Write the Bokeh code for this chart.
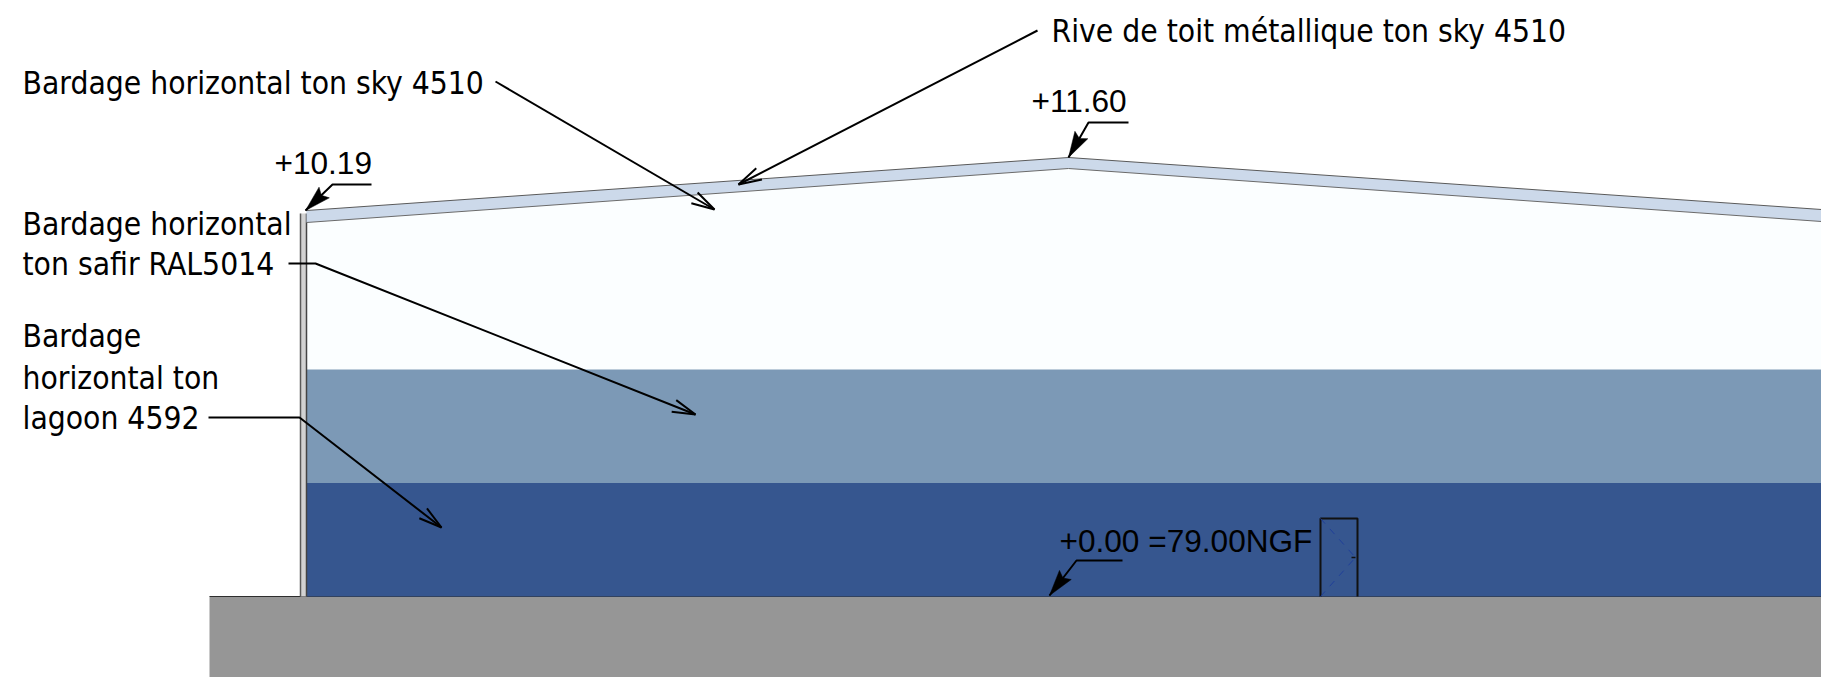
from bokeh.plotting import figure
from bokeh.models import Range1d
from bokeh.core.properties import value
from bokeh.embed import file_html
from bokeh.resources import INLINE
import math

# Drawing geometry, in elevation-sheet units
roof_top_x = [306, 1068, 1821]
roof_top_y = [210, 157, 209]
roof_bot_x = [306, 1068, 1821]
roof_bot_y = [222, 168, 221]

wall_x = [300, 306]
wall_top = 213

cladding_x = [306, 1821]
sky_top_y = [222, 168, 221]
band_y = [369, 482.5, 596]
ground_x = [209, 1821]
ground_y = [596, 677]

door_x = [1320, 1357]
door_y = [518, 596]

# Callouts: polyline ending with its arrow tip
callout_a = ([495, 714], [81, 209])
callout_b = ([1037, 738], [30, 184])
callout_c = ([288, 315, 695], [263, 263, 414])
callout_d = ([208, 299, 441], [417, 417, 527])

level_a = ([371, 332, 305], [184, 184, 210])
level_b = ([1128, 1088, 1068], [122, 122, 157])
level_c = ([1122, 1076, 1049], [560, 560, 595])

label_text = ["Bardage horizontal ton sky 4510", "Rive de toit métallique ton sky 4510",
              "Bardage horizontal", "ton safir RAL5014", "Bardage", "horizontal ton", "lagoon 4592"]
label_x = [22, 1051, 22, 22, 22, 22, 22]
label_y = [82, 30, 223, 263, 335, 377, 417]

level_text = ["+10.19", "+11.60", "+0.00 =79.00NGF"]
level_tx = [274, 1031, 1059]
level_ty = [162, 100, 540]

p = figure(width=1821, height=677, output_backend="svg", toolbar_location=None,
           x_range=Range1d(0, 1821), y_range=Range1d(677, 0),
           min_border=0, outline_line_color=None, background_fill_color="white")
p.axis.visible = False
p.grid.visible = False

# ground
p.quad(left=ground_x[0], right=ground_x[1], top=ground_y[0], bottom=ground_y[1],
       fill_color="#969696", line_color=None)
p.line(ground_x, [ground_y[0]] * 2, line_color="#2e2e2e", line_width=1.2)

# cladding
xs_sky = [cladding_x[0], roof_bot_x[1], cladding_x[1], cladding_x[1], cladding_x[0]]
ys_sky = [sky_top_y[0], sky_top_y[1], sky_top_y[2], band_y[0], band_y[0]]
p.patch(xs_sky, ys_sky, fill_color="#FBFEFF", line_color=None)
p.quad(left=cladding_x[0], right=cladding_x[1], top=band_y[0], bottom=band_y[1],
       fill_color="#7C99B6", line_color=None)
p.quad(left=cladding_x[0], right=cladding_x[1], top=band_y[1], bottom=band_y[2],
       fill_color="#36568F", line_color=None)

# wall edge
p.quad(left=wall_x[0], right=wall_x[1], top=wall_top, bottom=band_y[2],
       fill_color="#D2D2D2", line_color=None)
p.line([wall_x[0]] * 2, [wall_top, band_y[2]], line_color="#5a5a5a", line_width=1.5)
p.line([wall_x[1]] * 2, [wall_top, band_y[2]], line_color="#444444", line_width=1.5)

# roof
p.patch(roof_top_x + roof_bot_x[::-1], roof_top_y + roof_bot_y[::-1],
        fill_color="#CCD9EA", line_color=None)
p.line(roof_top_x, roof_top_y, line_color="#5a5a5a", line_width=1)
p.line(roof_bot_x, roof_bot_y, line_color="#6a6a6a", line_width=1)

# door
p.line([door_x[0], door_x[0], door_x[1], door_x[1]],
       [door_y[1], door_y[0], door_y[0], door_y[1]], line_color="#111111", line_width=2)
mid = (door_y[0] + door_y[1]) / 2
p.line([door_x[0], door_x[1] - 2, door_x[0]], [door_y[0], mid, door_y[1]],
       line_color="#1f3f99", line_width=1, line_dash="7 7")
p.line([door_x[1] - 6, door_x[1] - 2], [mid, mid], line_color="#111111", line_width=1.5)


def barbs(xs, ys, length, half):
    ang = math.atan2(ys[-2] - ys[-1], xs[-2] - xs[-1])
    return [(xs[-1] + length * math.cos(ang + s * half), ys[-1] + length * math.sin(ang + s * half))
            for s in (-1, 1)]


for cx, cy in (callout_a, callout_b, callout_c, callout_d):
    p.line(cx, cy, line_color="black", line_width=2)
    (ax, ay), (bx, by) = barbs(cx, cy, 24, math.radians(15))
    p.line([ax, cx[-1], bx], [ay, cy[-1], by], line_color="black", line_width=2)

for cx, cy in (level_a, level_b, level_c):
    p.line(cx, cy, line_color="black", line_width=2)
    (ax, ay), (bx, by) = barbs(cx, cy, 27, math.radians(16))
    (nx, ny), _ = barbs(cx, cy, 22, 0.0)
    p.patch([ax, cx[-1], bx, nx], [ay, cy[-1], by, ny], fill_color="black", line_color="black", line_width=0.5)

p.text(label_x, label_y, text=label_text, text_font=value("DejaVu Sans Condensed"),
       text_font_size="31.5px", text_color="black", text_baseline="alphabetic", text_align="left")
p.text(level_tx, level_ty, text=level_text, text_font=value("Liberation Sans"),
       text_font_size="31.6px", text_color="black", text_baseline="alphabetic", text_align="left")

open("out.html", "w").write(file_html(p, INLINE))
